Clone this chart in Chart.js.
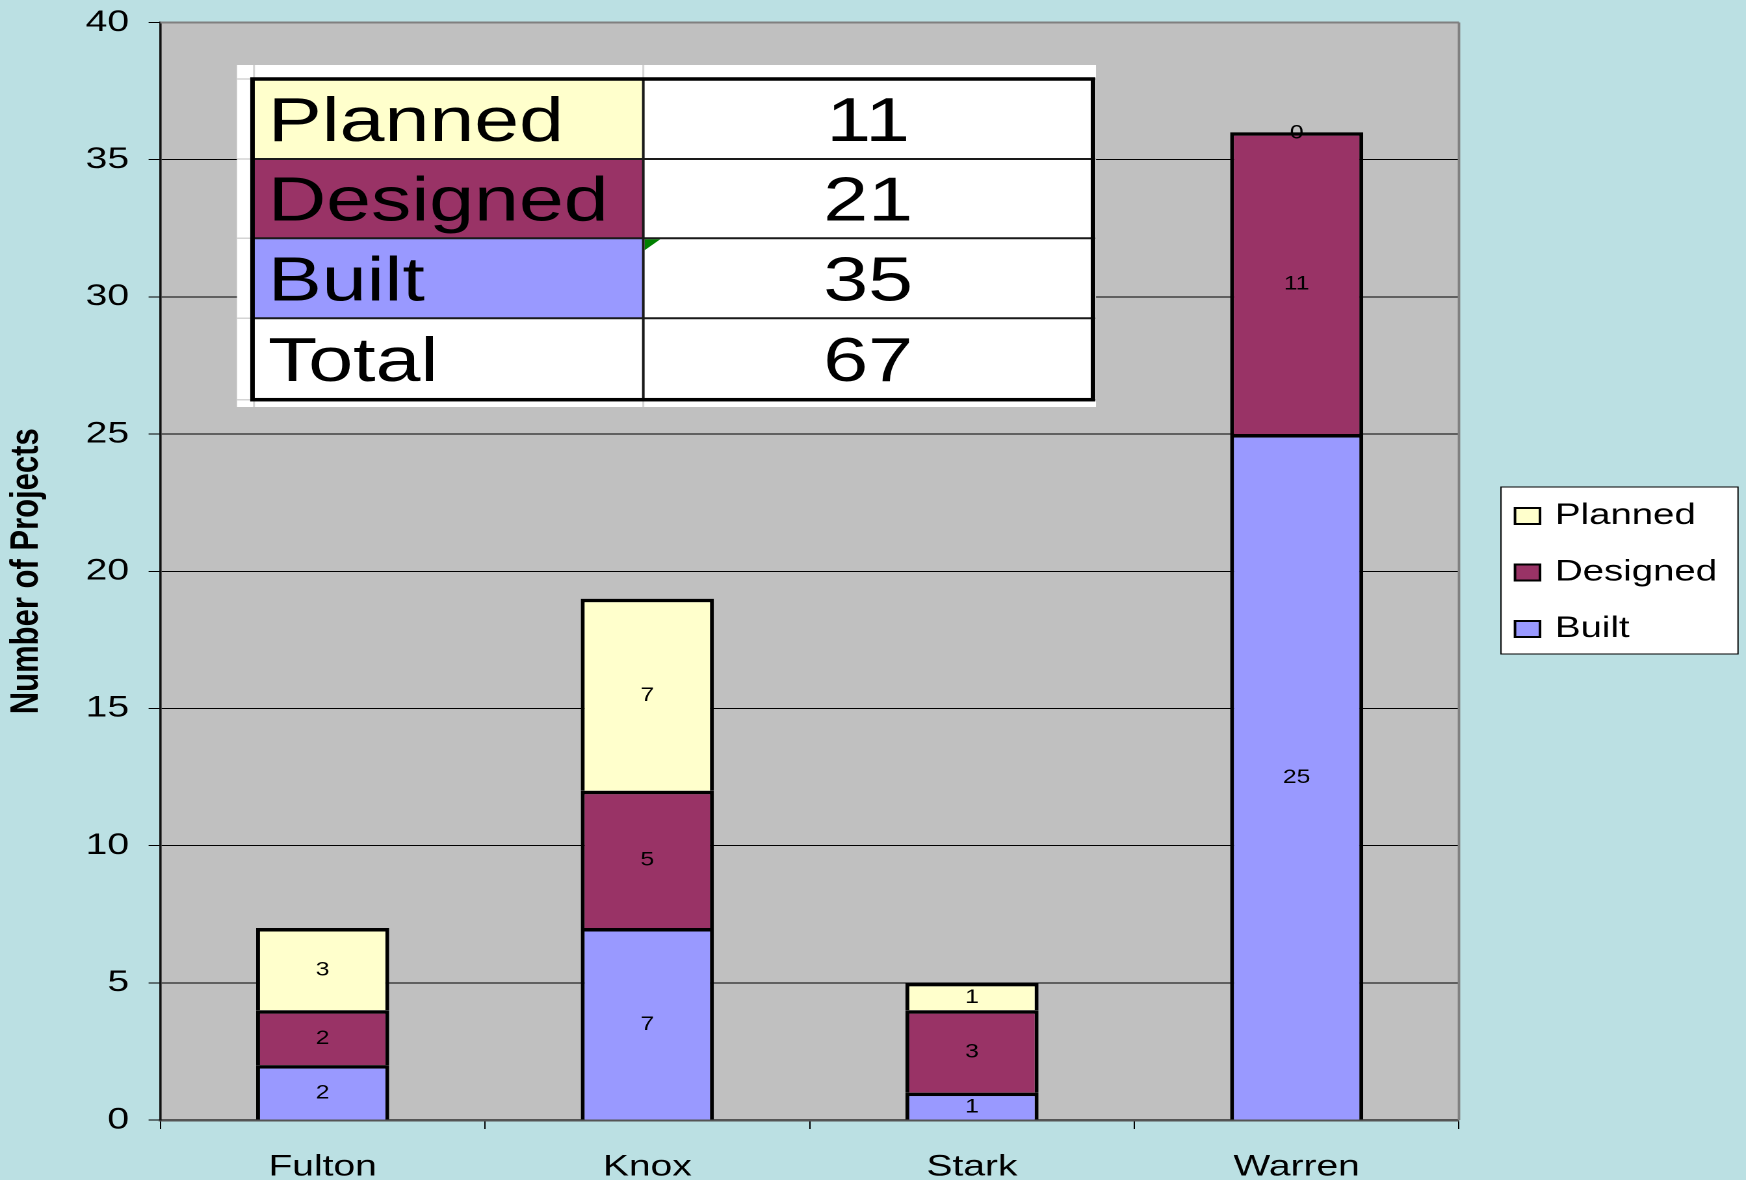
<!DOCTYPE html>
<html>
<head>
<meta charset="utf-8">
<script src="https://cdn.jsdelivr.net/npm/chart.js@4.4.1/dist/chart.umd.min.js"></script>
<style>
    html, body { margin: 0; padding: 0; background: #bbe0e3; overflow: hidden; }
    /* the source picture is a horizontally stretched Excel chart: draw narrow, stretch the box */
    #wrap { position: absolute; left: 0; top: 0; width: 1343px; height: 1180px;
            transform: scaleX(1.30007); transform-origin: 0 0; }
</style>
</head>
<body>
<div id="wrap"><canvas id="chart"></canvas></div>
<script>
// Data
const categories = ['Fulton', 'Knox', 'Stark', 'Warren'];
const builtValues = [2, 7, 1, 25];
const designedValues = [2, 5, 3, 11];
const plannedValues = [3, 7, 1, 0];
const yMax = 40;
const yStep = 5;

const K = 1746 / 1343;           // horizontal stretch
const sx = v => v / K;           // full-picture x -> canvas x

const FONT = '"Liberation Sans", Arial, sans-serif';
Chart.defaults.font.family = FONT;
Chart.defaults.color = '#000';

const sum = arr => arr.reduce((a, b) => a + b, 0);

// Plot background + gray frame
const plotFrame = {
    id: 'plotFrame',
    beforeDraw(chart) {
        const { ctx, chartArea: a } = chart;
        ctx.save();
        ctx.fillStyle = '#c0c0c0';
        ctx.fillRect(a.left, a.top, a.right - a.left, a.bottom - a.top);
        ctx.restore();
    },
    beforeDatasetsDraw(chart) {
        const { ctx, chartArea: a } = chart;
        ctx.save();
        ctx.strokeStyle = '#808080';
        ctx.lineWidth = 2;
        ctx.beginPath();
        ctx.moveTo(a.left, a.top);
        ctx.lineTo(a.right, a.top);
        ctx.stroke();
        ctx.lineWidth = 2.5 / K;
        ctx.beginPath();
        ctx.moveTo(a.right, a.top);
        ctx.lineTo(a.right, a.bottom);
        ctx.stroke();
        ctx.restore();
    }
};

// Value inside every segment
const valueLabels = {
    id: 'valueLabels',
    afterDatasetsDraw(chart) {
        const ctx = chart.ctx;
        ctx.save();
        ctx.font = '19px ' + FONT;
        ctx.fillStyle = '#000';
        ctx.textAlign = 'center';
        ctx.textBaseline = 'middle';
        chart.data.datasets.forEach((ds, i) => {
            chart.getDatasetMeta(i).data.forEach((bar, j) => {
                const { x, y, base } = bar.getProps(['x', 'y', 'base'], true);
                ctx.fillText(String(ds.data[j]), x, (y + base) / 2 + 1);
            });
        });
        ctx.restore();
    }
};

// Legend with frame, Excel order (top series first)
const boxedLegend = {
    id: 'boxedLegend',
    afterDraw(chart) {
        const ctx = chart.ctx;
        const left = sx(1501), top = 487, w = sx(1738) - sx(1501), h = 167;
        ctx.save();
        ctx.fillStyle = '#fff';
        ctx.fillRect(left, top, w, h);
        ctx.strokeStyle = '#000';
        ctx.lineWidth = 1;
        ctx.strokeRect(left, top, w, h);
        ctx.font = '29.5px ' + FONT;
        ctx.textBaseline = 'middle';
        const items = chart.data.datasets.slice().reverse();
        items.forEach((ds, i) => {
            const cy = 516 + i * 56.5;
            ctx.fillStyle = ds.backgroundColor;
            ctx.fillRect(sx(1515), cy - 8, sx(1540) - sx(1515), 16);
            ctx.lineWidth = 2;
            ctx.strokeStyle = '#000';
            ctx.strokeRect(sx(1515), cy - 8, sx(1540) - sx(1515), 16);
            ctx.fillStyle = '#000';
            ctx.fillText(ds.label, sx(1555), cy);
        });
        ctx.restore();
    }
};

// Pasted spreadsheet summary (totals from the series)
const summaryTable = {
    id: 'summaryTable',
    afterDraw(chart) {
        const ctx = chart.ctx;
        const rows = chart.data.datasets.slice().reverse().map(ds => ({
            label: ds.label, value: sum(ds.data), fill: ds.backgroundColor
        }));
        rows.push({ label: 'Total', value: sum(rows.map(r => r.value)), fill: '#fff' });

        const x0 = sx(252.5), x1 = sx(643.3), x2 = sx(1093);
        const ys = [79, 159, 238.3, 318.3, 399.7];
        ctx.save();
        // white sheet behind
        ctx.fillStyle = '#fff';
        ctx.fillRect(sx(237), 65, sx(1096) - sx(237), 342);
        ctx.strokeStyle = '#d4d4d4';
        ctx.lineWidth = 1.5;
        ctx.beginPath();
        ctx.moveTo(x1, 65); ctx.lineTo(x1, 407);
        ctx.moveTo(sx(254), 65); ctx.lineTo(sx(254), 407);
        ys.forEach(y => { ctx.moveTo(sx(237), y); ctx.lineTo(sx(1096), y); });
        ctx.stroke();

        rows.forEach((r, i) => {
            ctx.fillStyle = r.fill;
            ctx.fillRect(x0, ys[i], x1 - x0, ys[i + 1] - ys[i]);
            ctx.fillStyle = '#fff';
            ctx.fillRect(x1, ys[i], x2 - x1, ys[i + 1] - ys[i]);
        });

        // comment marker
        ctx.fillStyle = '#008000';
        ctx.beginPath();
        ctx.moveTo(x1 + 1, ys[2] + 1);
        ctx.lineTo(x1 + sx(17), ys[2] + 1);
        ctx.lineTo(x1 + 1, ys[2] + 12);
        ctx.closePath();
        ctx.fill();

        ctx.strokeStyle = '#1a1a1a';
        ctx.lineWidth = 2;
        ctx.beginPath();
        for (let i = 1; i < 4; i++) { ctx.moveTo(x0, ys[i]); ctx.lineTo(x2, ys[i]); }
        ctx.moveTo(x1, ys[0]); ctx.lineTo(x1, ys[4]);
        ctx.stroke();
        ctx.strokeStyle = '#000';
        ctx.lineWidth = 3.5;
        ctx.strokeRect(x0, ys[0], x2 - x0, ys[4] - ys[0]);

        ctx.fillStyle = '#000';
        ctx.font = '62px ' + FONT;
        ctx.textBaseline = 'alphabetic';
        rows.forEach((r, i) => {
            const base = (ys[i] + ys[i + 1]) / 2 + 22;
            ctx.textAlign = 'left';
            ctx.fillText(r.label, sx(268), base);
            ctx.textAlign = 'center';
            ctx.fillText(String(r.value), (x1 + x2) / 2, base);
        });
        ctx.restore();
    }
};

const barStyle = {
    borderColor: '#000',
    borderWidth: { top: 3.5, left: 3, right: 3, bottom: 3.5 },
    borderSkipped: 'start',
    barPercentage: 0.41,
    categoryPercentage: 1.0
};

new Chart(document.getElementById('chart'), {
    type: 'bar',
    data: {
        labels: categories,
        datasets: [
            { label: 'Built', data: builtValues, backgroundColor: '#9999ff', ...barStyle },
            { label: 'Designed', data: designedValues, backgroundColor: '#993366', ...barStyle },
            { label: 'Planned', data: plannedValues, backgroundColor: '#ffffcc', ...barStyle }
        ]
    },
    options: {
        responsive: true,
        maintainAspectRatio: false,
        animation: false,
        devicePixelRatio: 2,
        layout: { padding: { top: 22.5, right: 1343 - sx(1459), bottom: 0, left: 0 } },
        plugins: {
            legend: { display: false },
            tooltip: { enabled: false }
        },
        scales: {
            x: {
                stacked: true,
                grid: {
                    offset: true,
                    drawOnChartArea: false,
                    drawTicks: true,
                    tickLength: 9,
                    color: '#000',
                    lineWidth: 1
                },
                border: { display: true, color: '#555', width: 2.5 },
                ticks: { font: { size: 30 }, color: '#000', padding: 20, maxRotation: 0 },
                afterFit: s => { s.height = 60; }
            },
            y: {
                stacked: true,
                min: 0,
                max: yMax,
                ticks: { stepSize: yStep, font: { size: 30 }, color: '#000', padding: 15 },
                grid: {
                    color: c => (c.tick && c.tick.value === yMax ? '#808080' : '#000'),
                    tickColor: '#000',
                    lineWidth: 1,
                    tickLength: 9
                },
                border: { display: true, color: '#111', width: 1.8 },
                title: {
                    display: true,
                    text: 'Number of Projects',
                    font: { size: 31, weight: 'bold' },
                    color: '#000',
                    padding: { top: 2, bottom: 0 }
                },
                afterFit: s => {
                    s.width = sx(160.3);
                    // keep tick padding from pushing the plot down
                    s.paddingTop = 18;
                    s.paddingBottom = 18;
                }
            }
        }
    },
    plugins: [plotFrame, valueLabels, boxedLegend, summaryTable]
});
</script>
</body>
</html>
